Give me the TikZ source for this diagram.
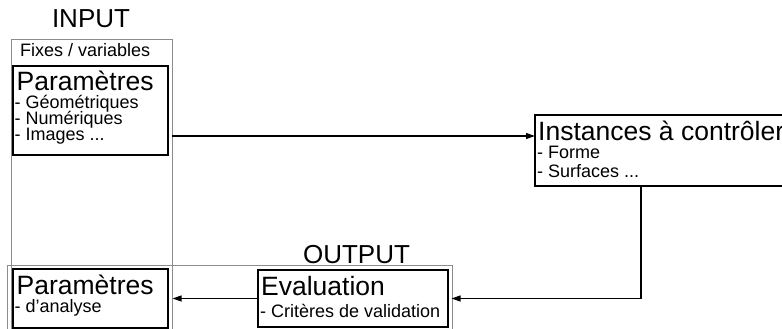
\documentclass[tikz,border=0pt]{standalone}
\usepackage{fontspec}
\setmainfont{Liberation Sans}
\usetikzlibrary{arrows.meta}
\tikzset{
  frame/.style={draw=black!45, line width=0.9pt, inner sep=0pt, outer sep=0pt, anchor=north west},
  box/.style={draw=black, line width=1.4pt, inner sep=0pt, outer sep=0pt, anchor=north west},
  big/.style={anchor=base west, inner sep=0pt, font=\fontsize{26.5}{26.5}\selectfont},
  title/.style={anchor=base, inner sep=0pt, font=\fontsize{26}{26}\selectfont},
  small/.style={anchor=base west, inner sep=0pt, font=\fontsize{18}{18}\selectfont},
  arr/.style={draw=black, line width=1.2pt, -{Triangle[length=9pt,width=6pt]}}
}
\begin{document}
\begin{tikzpicture}[x=1pt,y=-1pt]
\useasboundingbox (0,0) rectangle (782,329);
\clip (0,0) rectangle (782,329);

% group frames
\node[frame, minimum width=161pt, minimum height=320pt] (ingroup) at (11,39) {};
\node[frame, minimum width=445pt, minimum height=100pt] (outgroup) at (7,265.5) {};
\node[title] (intitle) at (91,28) {INPUT};
\node[title] (outtitle) at (356.5,263) {OUTPUT};
\node[small] (fixes) at (20,57) {Fixes / variables};

% input parameters
\node[box, minimum width=155pt, minimum height=89pt] (parin) at (13,66) {};
\node[big] (parinT) at (16.5,90) {Paramètres};
\node[small] (parin1) at (14.5,108) {- Géométriques};
\node[small] (parin2) at (14.5,124) {- Numériques};
\node[small] (parin3) at (14.5,140) {- Images ...};

% instances
\node[box, minimum width=260pt, minimum height=71pt] (inst) at (535,115) {};
\node[big] (instT) at (538,140) {Instances à contrôler};
\node[small] (inst1) at (537,158) {- Forme};
\node[small] (inst2) at (537,177) {- Surfaces ...};

% evaluation
\node[box, minimum width=190pt, minimum height=57pt] (eval) at (258,270) {};
\node[big] (evalT) at (261,295) {Evaluation};
\node[small] (eval1) at (260,317) {- Critères de validation};

% output parameters
\node[box, minimum width=155pt, minimum height=59pt] (parout) at (13,269) {};
\node[big] (paroutT) at (16.5,294) {Paramètres};
\node[small] (parout1) at (14.5,312) {- d'analyse};

% connectors
\coordinate (fwd) at (0,136);
\coordinate (ret) at (641,0);
\draw[arr, shorten <=4pt] (parin.east |- fwd) -- (inst.west |- fwd);
\draw[arr, shorten >=3.5pt] (ret |- inst.south) |- (eval.east);
\draw[arr, shorten >=4.5pt] (eval.west) -- (parout.east);
\end{tikzpicture}
\end{document}
